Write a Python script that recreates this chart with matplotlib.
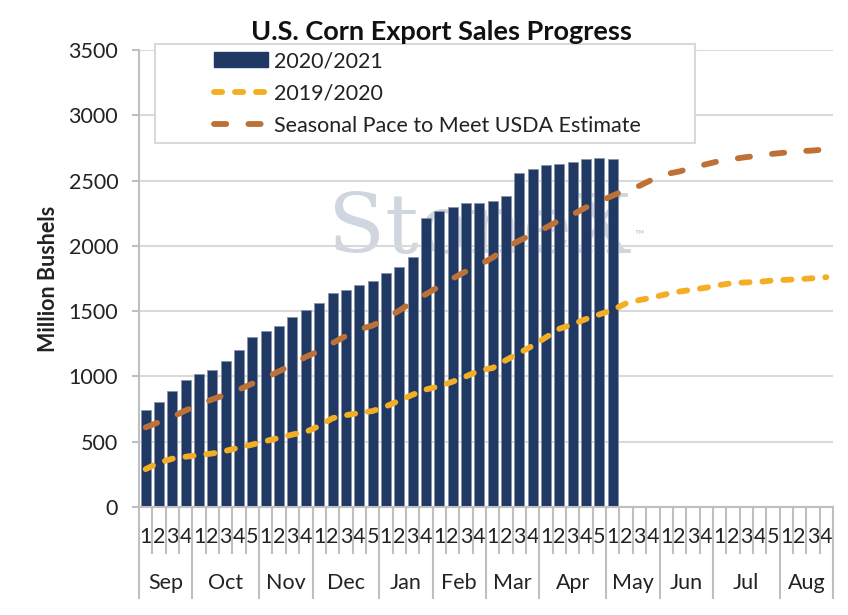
import matplotlib
matplotlib.use("Agg")
import matplotlib.pyplot as plt
import matplotlib.transforms as mtransforms
from matplotlib.patches import Rectangle, Patch
from matplotlib.lines import Line2D
import numpy as np

plt.rcParams["font.family"] = ["Lato", "DejaVu Sans"]

# weeks per month of the marketing year
MONTHS = ["Sep", "Oct", "Nov", "Dec", "Jan", "Feb", "Mar", "Apr",
          "May", "Jun", "Jul", "Aug"]
WEEKS_PER_MONTH = [4, 5, 4, 5, 4, 4, 4, 5, 4, 4, 5, 4]

# 2020/2021 cumulative export sales (million bushels), Sep wk1 .. May wk1
sales_2021 = [743, 804, 890, 972, 1018, 1047, 1118, 1202, 1304, 1345,
              1388, 1452, 1506, 1562, 1636, 1662, 1697, 1728, 1789, 1840,
              1917, 2210, 2264, 2300, 2325, 2325, 2341, 2381, 2555, 2585,
              2619, 2629, 2644, 2664, 2672, 2667]

# 2019/2020 cumulative sales, full year
sales_2020 = [290, 340, 370, 385, 398, 410, 430, 455, 478, 505,
              530, 555, 575, 620, 680, 703, 720, 735, 770, 815,
              860, 900, 925, 960, 1000, 1045, 1065, 1125, 1180, 1235,
              1300, 1365, 1400, 1440, 1475, 1510, 1560, 1585, 1605, 1630,
              1650, 1665, 1680, 1700, 1715, 1720, 1725, 1735, 1740, 1745,
              1752, 1760]

# seasonal pace needed to meet the USDA estimate
usda_pace = [610, 650, 690, 740, 785, 825, 860, 900, 945, 990,
             1040, 1090, 1150, 1195, 1255, 1310, 1360, 1390, 1440, 1505,
             1570, 1630, 1690, 1750, 1805, 1855, 1910, 1985, 2040, 2090,
             2140, 2195, 2240, 2295, 2340, 2385, 2430, 2460, 2510, 2550,
             2570, 2600, 2625, 2650, 2665, 2680, 2690, 2705, 2715, 2725,
             2730, 2740]

NAVY = "#1F3864"
GOLD = "#F4AE24"
COPPER = "#BD7136"
GRID = "#D9D9D9"
AXIS = "#BFBFBF"
TXT = "#222222"
FS = 15.5

week_labels = []
for n in WEEKS_PER_MONTH:
    week_labels += [str(w) for w in range(1, n + 1)]
x = np.arange(len(week_labels))

fig = plt.figure(figsize=(8.48, 6.15), dpi=100)
ax = fig.add_axes([139 / 848, 1 - 507 / 615, 694 / 848, 457 / 615])

# faint watermark behind the data
ax.text(25.0, 2120, "StoneX", fontsize=60, family="DejaVu Serif",
        color="#BCC5D3", alpha=0.7, ha="center", va="center", zorder=0.5)
ax.text(36.6, 2060, "\u2122", fontsize=9, color="#BCC5D3", zorder=0.5)

ax.bar(x[:len(sales_2021)], sales_2021, width=0.75, color=NAVY,
       edgecolor="#8A93A8", linewidth=0.6, zorder=2)
ax.plot(x, sales_2020, color=GOLD, lw=4.2, linestyle=(0, (1.4, 2.2)),
        dash_capstyle="round", zorder=3)
ax.plot(x, usda_pace, color=COPPER, lw=4.2, linestyle=(0, (2.1, 3.8)),
        dash_capstyle="round", zorder=3)

ax.set_xlim(-0.5, len(x) - 0.5)
ax.set_ylim(0, 3500)
ax.set_yticks(range(0, 3501, 500))
ax.yaxis.grid(True, color=GRID, lw=1.5)
ax.set_axisbelow(True)
for side in ("top", "right"):
    ax.spines[side].set_visible(False)
ax.spines["left"].set_color(AXIS)
ax.spines["left"].set_linewidth(1.5)
ax.spines["bottom"].set_color(AXIS)
ax.spines["bottom"].set_linewidth(1.5)
ax.tick_params(axis="y", length=5, width=1.5, color=AXIS, pad=10,
               labelsize=FS, labelcolor=TXT)

ax.set_xticks(x)
ax.set_xticklabels(week_labels)
ax.tick_params(axis="x", length=0, pad=14.5, labelsize=FS, labelcolor=TXT)

# category separators below the axis
trans = mtransforms.blended_transform_factory(ax.transData, ax.transAxes)
bounds = np.cumsum([0] + WEEKS_PER_MONTH) - 0.5
month_edges = set(bounds.tolist())
for b in np.arange(len(x) + 1) - 0.5:
    depth = -0.199 if b in month_edges else -0.101
    ax.plot([b, b], [0, depth], color=AXIS, lw=1.5, transform=trans,
            clip_on=False, zorder=1)
for i, m in enumerate(MONTHS):
    ax.text((bounds[i] + bounds[i + 1]) / 2, -0.166, m, transform=trans,
            ha="center", va="center", fontsize=FS, color=TXT)

fig.text(49 / 848, 1 - 279 / 615, "Million Bushels", rotation=90,
         ha="center", va="center", fontsize=15.5, fontweight="bold",
         color=TXT)
fig.text(441 / 848, 1 - 32 / 615, "U.S. Corn Export Sales Progress",
         ha="center", va="center", fontsize=19.5, fontweight="bold",
         color="#111111")

# legend box, white and drawn over the grid
box = Rectangle((155 / 848, 1 - 143 / 615), 540 / 848, 99 / 615,
                transform=fig.transFigure, facecolor="white",
                edgecolor=GRID, lw=1.5, zorder=9, clip_on=False)
ax.add_patch(box)
handles = [
    Patch(facecolor=NAVY, edgecolor=NAVY),
    Line2D([], [], color=GOLD, lw=4.2, linestyle=(0, (1.4, 2.2)),
           dash_capstyle="round"),
    Line2D([], [], color=COPPER, lw=4.2, linestyle=(0, (2.1, 3.8)),
           dash_capstyle="round"),
]
leg = ax.legend(handles, ["2020/2021", "2019/2020",
                          "Seasonal Pace to Meet USDA Estimate"],
                loc="upper left", bbox_to_anchor=(214 / 848, 1 - 51 / 615),
                bbox_transform=fig.transFigure, frameon=False,
                fontsize=FS, handlelength=2.5, handletextpad=0.28,
                labelspacing=0.58, borderpad=0, borderaxespad=0)
leg.set_zorder(10)
for t in leg.get_texts():
    t.set_color(TXT)

fig.savefig("out.png", dpi=100)
